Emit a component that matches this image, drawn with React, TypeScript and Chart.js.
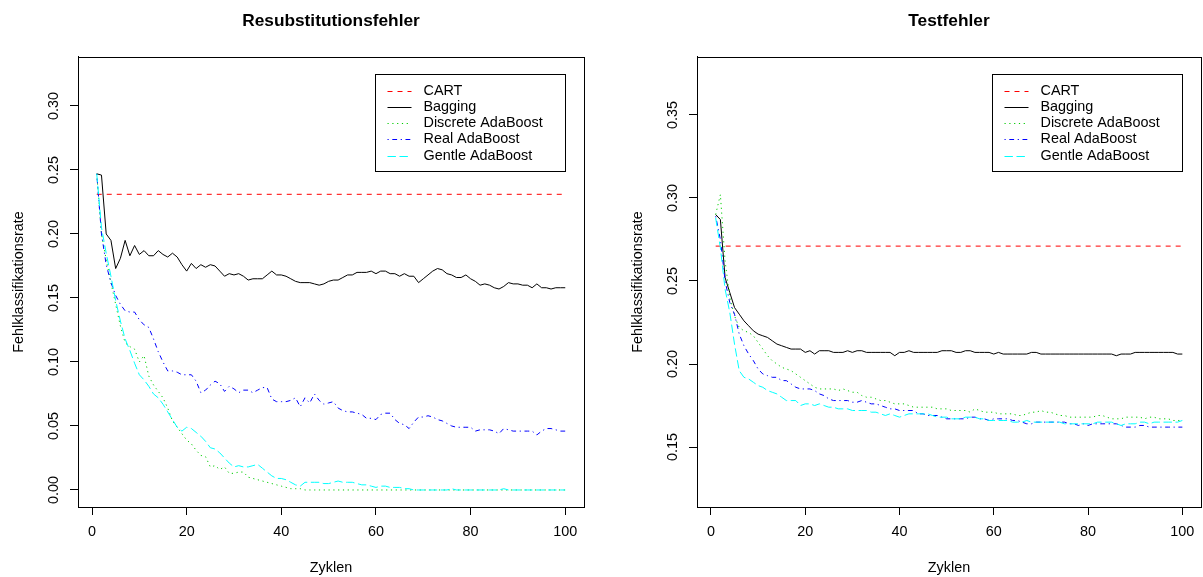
import React, { useEffect, useRef } from "react";
import { Chart, registerables } from "chart.js";

Chart.register(...registerables);

const FONT = '"Liberation Sans", Arial, Helvetica, sans-serif';

// Boosting iterations on the x axis
const cycles: number[] = Array.from({ length: 100 }, (_, i) => i + 1);
const xTicks = [0, 20, 40, 60, 80, 100];
const yTicksResub = [0, 0.05, 0.1, 0.15, 0.2, 0.25, 0.3];
const yTicksTest = [0.15, 0.2, 0.25, 0.3, 0.35];

const seriesNames = ["CART", "Bagging", "Discrete AdaBoost", "Real AdaBoost", "Gentle AdaBoost"];
const seriesColors = ["#FF0000", "#000000", "#00CD00", "#0000FF", "#00FFFF"];
const seriesDashes: number[][] = [[5, 5], [], [1.2, 3.6], [1.2, 3.6, 4.8, 3.6], [8.4, 3.6]];

// Resubstitution (training) error
const cartResub = 0.231;
const baggingResub = [
  0.247, 0.246, 0.200, 0.195, 0.173, 0.181, 0.195, 0.183, 0.191, 0.184,
  0.187, 0.183, 0.183, 0.187, 0.184, 0.182, 0.185, 0.182, 0.176, 0.171,
  0.177, 0.173, 0.176, 0.174, 0.176, 0.175, 0.171, 0.167, 0.169, 0.168,
  0.169, 0.167, 0.164, 0.165, 0.165, 0.165, 0.168, 0.171, 0.168, 0.168,
  0.167, 0.165, 0.163, 0.162, 0.162, 0.162, 0.161, 0.160, 0.161, 0.163,
  0.164, 0.164, 0.166, 0.168, 0.168, 0.170, 0.170, 0.170, 0.171, 0.169,
  0.171, 0.171, 0.169, 0.169, 0.167, 0.169, 0.167, 0.167, 0.162, 0.165,
  0.168, 0.171, 0.173, 0.172, 0.169, 0.168, 0.166, 0.166, 0.168, 0.165,
  0.163, 0.160, 0.161, 0.160, 0.158, 0.157, 0.159, 0.162, 0.161, 0.161,
  0.160, 0.160, 0.158, 0.161, 0.158, 0.158, 0.157, 0.158, 0.158, 0.158,
];
const discreteResub = [
  0.247, 0.200, 0.180, 0.162, 0.145, 0.128, 0.115, 0.112, 0.110, 0.100,
  0.105, 0.089, 0.082, 0.077, 0.072, 0.064, 0.054, 0.049, 0.044, 0.039,
  0.036, 0.031, 0.027, 0.026, 0.018, 0.019, 0.016, 0.018, 0.013, 0.013,
  0.014, 0.014, 0.010, 0.009, 0.008, 0.007, 0.006, 0.005, 0.004, 0.003,
  0.002, 0.001, 0.001, 0.001, 0.000, 0.000, 0.000, 0.000, 0.000, 0.000,
  0.000, 0.000, 0.000, 0.000, 0.000, 0.000, 0.000, 0.000, 0.000, 0.000,
  0.000, 0.000, 0.000, 0.000, 0.000, 0.000, 0.000, 0.000, 0.000, 0.000,
  0.000, 0.000, 0.000, 0.000, 0.000, 0.000, 0.000, 0.000, 0.000, 0.000,
  0.000, 0.000, 0.000, 0.000, 0.000, 0.000, 0.000, 0.000, 0.000, 0.000,
  0.000, 0.000, 0.000, 0.000, 0.000, 0.000, 0.000, 0.000, 0.000, 0.000,
];
const realResub = [
  0.247, 0.200, 0.176, 0.162, 0.152, 0.145, 0.140, 0.139, 0.139, 0.133,
  0.129, 0.127, 0.118, 0.108, 0.100, 0.093, 0.093, 0.092, 0.090, 0.090,
  0.090, 0.085, 0.076, 0.078, 0.082, 0.085, 0.083, 0.077, 0.081, 0.079,
  0.076, 0.078, 0.078, 0.076, 0.078, 0.080, 0.080, 0.071, 0.069, 0.069,
  0.069, 0.070, 0.072, 0.065, 0.072, 0.068, 0.075, 0.070, 0.067, 0.068,
  0.069, 0.064, 0.062, 0.061, 0.061, 0.060, 0.059, 0.056, 0.056, 0.055,
  0.059, 0.060, 0.060, 0.055, 0.052, 0.051, 0.048, 0.053, 0.057, 0.057,
  0.058, 0.057, 0.055, 0.054, 0.052, 0.050, 0.049, 0.049, 0.049, 0.049,
  0.046, 0.047, 0.047, 0.047, 0.046, 0.044, 0.048, 0.047, 0.046, 0.046,
  0.046, 0.046, 0.046, 0.043, 0.046, 0.048, 0.048, 0.047, 0.046, 0.046,
];
const gentleResub = [
  0.247, 0.205, 0.185, 0.167, 0.148, 0.132, 0.118, 0.109, 0.099, 0.090,
  0.086, 0.081, 0.075, 0.072, 0.067, 0.061, 0.055, 0.049, 0.046, 0.049,
  0.048, 0.045, 0.042, 0.038, 0.033, 0.032, 0.029, 0.025, 0.021, 0.018,
  0.019, 0.018, 0.018, 0.019, 0.020, 0.017, 0.014, 0.011, 0.009, 0.009,
  0.008, 0.006, 0.004, 0.003, 0.006, 0.006, 0.006, 0.006, 0.005, 0.005,
  0.006, 0.007, 0.006, 0.006, 0.006, 0.005, 0.004, 0.004, 0.003, 0.002,
  0.003, 0.003, 0.002, 0.002, 0.002, 0.001, 0.001, 0.000, 0.000, 0.000,
  0.000, 0.000, 0.000, 0.000, 0.000, 0.001, 0.000, 0.000, 0.000, 0.000,
  0.000, 0.000, 0.000, 0.000, 0.000, 0.000, 0.001, 0.000, 0.000, 0.000,
  0.000, 0.000, 0.000, 0.000, 0.000, 0.000, 0.000, 0.000, 0.000, 0.000,
];

// Test error
const cartTest = 0.271;
const baggingTest = [
  0.290, 0.287, 0.252, 0.243, 0.234, 0.230, 0.226, 0.223, 0.220, 0.218,
  0.217, 0.216, 0.214, 0.212, 0.211, 0.210, 0.209, 0.209, 0.209, 0.207,
  0.208, 0.206, 0.208, 0.208, 0.208, 0.207, 0.207, 0.207, 0.208, 0.207,
  0.208, 0.208, 0.207, 0.207, 0.207, 0.207, 0.207, 0.207, 0.205, 0.207,
  0.207, 0.208, 0.207, 0.207, 0.207, 0.207, 0.207, 0.207, 0.208, 0.208,
  0.208, 0.207, 0.207, 0.208, 0.208, 0.207, 0.207, 0.207, 0.207, 0.206,
  0.207, 0.206, 0.206, 0.206, 0.206, 0.206, 0.206, 0.207, 0.207, 0.206,
  0.206, 0.206, 0.206, 0.206, 0.206, 0.206, 0.206, 0.206, 0.206, 0.206,
  0.206, 0.206, 0.206, 0.206, 0.206, 0.205, 0.206, 0.206, 0.206, 0.207,
  0.207, 0.207, 0.207, 0.207, 0.207, 0.207, 0.207, 0.207, 0.206, 0.206,
];
const discreteTest = [
  0.290, 0.302, 0.262, 0.240, 0.229, 0.222, 0.220, 0.219, 0.217, 0.213,
  0.209, 0.205, 0.202, 0.200, 0.198, 0.197, 0.196, 0.194, 0.192, 0.190,
  0.188, 0.186, 0.185, 0.185, 0.185, 0.185, 0.184, 0.185, 0.184, 0.183,
  0.183, 0.181, 0.180, 0.180, 0.179, 0.178, 0.178, 0.177, 0.176, 0.176,
  0.176, 0.175, 0.174, 0.174, 0.174, 0.174, 0.174, 0.173, 0.173, 0.173,
  0.172, 0.172, 0.172, 0.172, 0.171, 0.173, 0.172, 0.171, 0.171, 0.171,
  0.170, 0.170, 0.170, 0.170, 0.169, 0.169, 0.170, 0.171, 0.171, 0.172,
  0.171, 0.171, 0.170, 0.169, 0.169, 0.168, 0.168, 0.168, 0.168, 0.168,
  0.168, 0.169, 0.169, 0.168, 0.167, 0.167, 0.167, 0.168, 0.168, 0.168,
  0.168, 0.167, 0.168, 0.168, 0.167, 0.167, 0.167, 0.166, 0.166, 0.166,
];
const realTest = [
  0.289, 0.275, 0.250, 0.237, 0.230, 0.218, 0.211, 0.206, 0.202, 0.197,
  0.194, 0.193, 0.192, 0.192, 0.190, 0.190, 0.188, 0.186, 0.185, 0.185,
  0.185, 0.184, 0.182, 0.181, 0.179, 0.178, 0.178, 0.178, 0.178, 0.177,
  0.177, 0.178, 0.177, 0.176, 0.176, 0.175, 0.174, 0.173, 0.173, 0.172,
  0.172, 0.172, 0.172, 0.170, 0.170, 0.169, 0.169, 0.169, 0.168, 0.167,
  0.167, 0.167, 0.167, 0.167, 0.168, 0.168, 0.167, 0.167, 0.166, 0.167,
  0.167, 0.167, 0.167, 0.166, 0.166, 0.165, 0.164, 0.164, 0.165, 0.165,
  0.165, 0.165, 0.165, 0.165, 0.165, 0.164, 0.164, 0.163, 0.164, 0.163,
  0.164, 0.164, 0.164, 0.164, 0.164, 0.164, 0.163, 0.162, 0.162, 0.162,
  0.163, 0.163, 0.162, 0.162, 0.162, 0.162, 0.162, 0.162, 0.162, 0.162,
];
const gentleTest = [
  0.288, 0.270, 0.245, 0.231, 0.212, 0.196, 0.192, 0.191, 0.189, 0.187,
  0.186, 0.184, 0.183, 0.182, 0.180, 0.178, 0.178, 0.178, 0.175, 0.176,
  0.176, 0.175, 0.176, 0.175, 0.174, 0.174, 0.173, 0.173, 0.173, 0.172,
  0.172, 0.172, 0.172, 0.171, 0.171, 0.170, 0.169, 0.170, 0.169, 0.168,
  0.169, 0.170, 0.170, 0.170, 0.170, 0.170, 0.169, 0.168, 0.168, 0.168,
  0.167, 0.167, 0.167, 0.168, 0.168, 0.168, 0.167, 0.167, 0.166, 0.166,
  0.166, 0.166, 0.166, 0.165, 0.165, 0.165, 0.166, 0.165, 0.165, 0.165,
  0.165, 0.165, 0.165, 0.165, 0.164, 0.164, 0.164, 0.164, 0.164, 0.164,
  0.164, 0.165, 0.165, 0.165, 0.165, 0.164, 0.163, 0.164, 0.164, 0.164,
  0.165, 0.165, 0.164, 0.165, 0.165, 0.165, 0.165, 0.165, 0.165, 0.166,
];

const CANVAS_H = 577;
const PLOT_TOP = 57;
const PLOT_BOTTOM = 507;
const TEXT_PX = 14.4;

// Plot frame plus the boxed legend in the upper right of the plot area
const frameAndLegend = {
  id: "frameAndLegend",
  afterDatasetsDraw(chart: any) {
    const { ctx, chartArea: a } = chart;
    ctx.save();
    ctx.setLineDash([]);
    ctx.lineWidth = 1;
    ctx.strokeStyle = "#000";
    const l = Math.round(a.left) + 0.5;
    const r = Math.round(a.right) + 0.5;
    const t = Math.round(a.top) + 0.5;
    const b = Math.round(a.bottom) + 0.5;
    ctx.strokeRect(l, t, r - l, b - t);

    const w = 190;
    const h = 97;
    const bx = Math.round(a.right - 19 - w) + 0.5;
    const by = Math.round(a.top + 17) + 0.5;
    ctx.strokeRect(bx, by, w, h);
    ctx.font = `${TEXT_PX}px ${FONT}`;
    ctx.textBaseline = "middle";
    ctx.textAlign = "left";
    chart.data.datasets.forEach((ds: any, i: number) => {
      const y = Math.round(by + 16 + i * 16.3) + 0.5;
      ctx.strokeStyle = ds.borderColor;
      ctx.setLineDash(ds.borderDash || []);
      ctx.beginPath();
      ctx.moveTo(bx + 12, y);
      ctx.lineTo(bx + 36, y);
      ctx.stroke();
      ctx.setLineDash([]);
      ctx.fillStyle = "#000";
      ctx.fillText(ds.label, bx + 48, y);
    });
    ctx.restore();
  },
};

type PanelProps = {
  title: string;
  cart: number;
  series: number[][];
  yMin: number;
  yMax: number;
  yTicks: number[];
  left: number;
  width: number;
  axisWidth: number;
  padRight: number;
  yTitleGap: number;
};

function ErrorPanel(p: PanelProps) {
  const ref = useRef<HTMLCanvasElement>(null);

  useEffect(() => {
    const font = { family: FONT, size: TEXT_PX };
    const lastCycle = cycles[cycles.length - 1];
    const values = [
      [
        { x: cycles[0], y: p.cart },
        { x: lastCycle, y: p.cart },
      ],
      ...p.series.map((s) => cycles.map((c, i) => ({ x: c, y: s[i] }))),
    ];
    const datasets = values.map((data, i) => ({
      label: seriesNames[i],
      data,
      borderColor: seriesColors[i],
      borderDash: seriesDashes[i],
      borderWidth: 1,
      pointRadius: 0,
      fill: false,
      tension: 0,
      borderCapStyle: "butt" as const,
      order: values.length - 1 - i,
    }));

    const axisLook = {
      grid: {
        display: true,
        drawOnChartArea: false,
        drawTicks: true,
        tickLength: 8,
        color: "#000",
        lineWidth: 1,
      },
      border: { display: true, color: "#000", width: 1 },
    };

    const chart = new Chart(ref.current as HTMLCanvasElement, {
      type: "line",
      data: { datasets },
      plugins: [frameAndLegend],
      options: {
        animation: false,
        responsive: false,
        devicePixelRatio: 1,
        layout: { padding: { left: 0, right: p.padRight, top: 0, bottom: 0 } },
        plugins: {
          legend: { display: false },
          tooltip: { enabled: false },
          title: {
            display: true,
            text: p.title,
            fullSize: false,
            color: "#000",
            font: { family: FONT, size: 17.3, weight: "bold" },
            padding: { top: 10.6, bottom: 25.6 },
          },
        },
        scales: {
          x: {
            type: "linear",
            min: -2.96,
            max: 103.96,
            afterBuildTicks: (s: any) => {
              s.ticks = xTicks.map((v) => ({ value: v }));
            },
            afterFit: (s: any) => {
              s.height = CANVAS_H - PLOT_BOTTOM;
            },
            ticks: {
              autoSkip: false,
              maxRotation: 0,
              minRotation: 0,
              padding: 8,
              color: "#000",
              font,
              callback: (v: any) => String(v),
            },
            title: {
              display: true,
              text: "Zyklen",
              color: "#000",
              font,
              padding: { top: 0, bottom: 0 },
            },
            ...axisLook,
          },
          y: {
            type: "linear",
            min: p.yMin,
            max: p.yMax,
            afterBuildTicks: (s: any) => {
              s.ticks = p.yTicks.map((v) => ({ value: v }));
            },
            afterFit: (s: any) => {
              s.width = p.axisWidth;
            },
            ticks: {
              autoSkip: false,
              minRotation: 90,
              maxRotation: 90,
              crossAlign: "center",
              padding: 2,
              color: "#000",
              font,
              callback: (v: any) => Number(v).toFixed(2),
            },
            title: {
              display: true,
              text: "Fehlklassifikationsrate",
              color: "#000",
              font,
              padding: { top: p.yTitleGap, bottom: 0 },
            },
            ...axisLook,
          },
        },
      } as any,
    });
    return () => chart.destroy();
  }, []);

  return (
    <canvas
      ref={ref}
      width={p.width}
      height={CANVAS_H}
      style={{ position: "absolute", left: p.left, top: 0, width: p.width, height: CANVAS_H, display: "block" }}
    />
  );
}

export default function App() {
  return (
    <div style={{ position: "absolute", left: 0, top: 0, width: 1203, height: CANVAS_H, background: "#fff" }}>
      <ErrorPanel
        title="Resubstitutionsfehler"
        cart={cartResub}
        series={[baggingResub, discreteResub, realResub, gentleResub]}
        yMin={-0.0133}
        yMax={0.3383}
        yTicks={yTicksResub}
        left={0}
        width={601}
        axisWidth={78}
        padRight={17}
        yTitleGap={10.4}
      />
      <ErrorPanel
        title="Testfehler"
        cart={cartTest}
        series={[baggingTest, discreteTest, realTest, gentleTest]}
        yMin={0.1139}
        yMax={0.3849}
        yTicks={yTicksTest}
        left={601}
        width={602}
        axisWidth={96}
        padRight={2}
        yTitleGap={28.4}
      />
    </div>
  );
}
